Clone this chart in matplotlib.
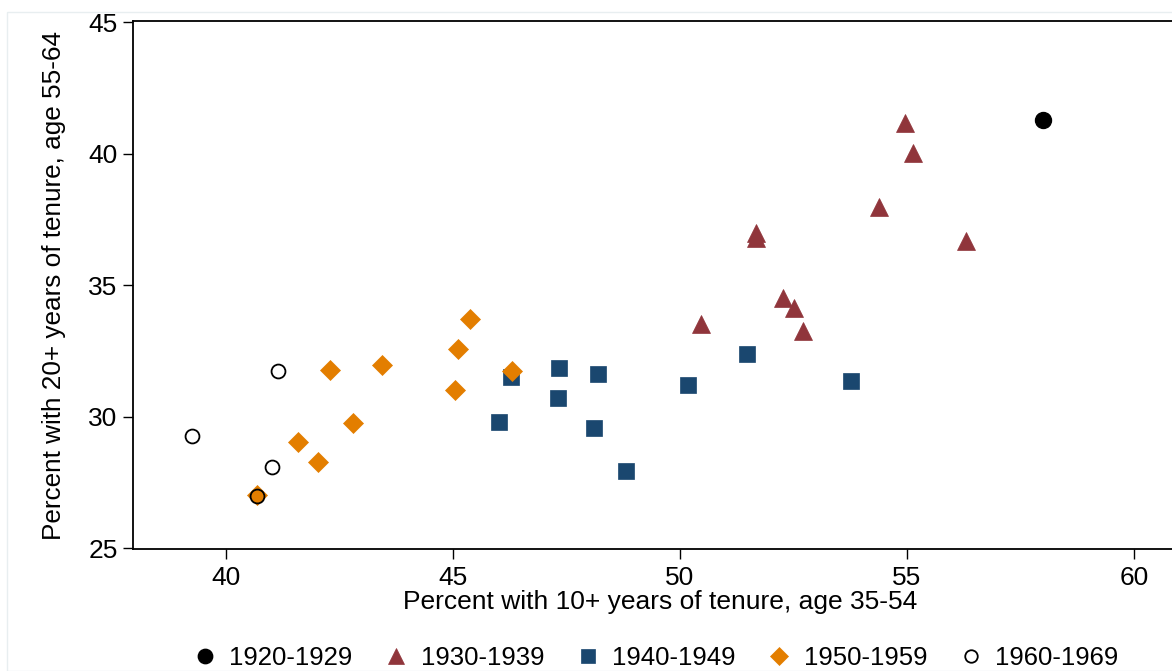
import matplotlib
matplotlib.use('Agg')
import matplotlib.pyplot as plt
from matplotlib.patches import Rectangle

plt.rcParams['font.family'] = ['Liberation Sans', 'DejaVu Sans']

# cohort data: (10+ yrs tenure age 35-54, 20+ yrs tenure age 55-64)
x_1920 = [58.0]
y_1920 = [41.28]

x_1930 = [54.96, 55.14, 54.39, 56.31, 51.68, 51.68, 52.27, 52.52, 52.72, 50.47]
y_1930 = [41.17, 40.02, 37.96, 36.67, 36.97, 36.78, 34.50, 34.12, 33.25, 33.52]

x_1940 = [46.28, 47.34, 48.20, 47.32, 46.02, 48.11, 48.82, 50.18, 51.48, 53.77]
y_1940 = [31.51, 31.84, 31.63, 30.71, 29.80, 29.58, 27.95, 31.21, 32.38, 31.36]

x_1950 = [45.37, 45.12, 46.30, 45.04, 43.45, 42.30, 42.81, 41.59, 42.04, 40.68]
y_1950 = [33.70, 32.56, 31.74, 31.02, 31.98, 31.78, 29.75, 29.05, 28.28, 27.02]

x_1960 = [41.15, 39.25, 41.03, 40.68]
y_1960 = [31.75, 29.27, 28.10, 27.00]

x_ticks = [40, 45, 50, 55, 60]
y_ticks = [25, 30, 35, 40, 45]

W, H = 1172, 671
fs = 19
fig = plt.figure(figsize=(W / 100, H / 100), dpi=100)
fig.patches.append(Rectangle((7 / W, 0), 1, 1 - 12 / H, transform=fig.transFigure,
                             fill=False, edgecolor='#e8eef0', linewidth=1.0))

left, right, top, bottom = 133, 1172, 21, 549
ax = fig.add_axes([left / W, 1 - bottom / H, (right - left) / W, (bottom - top) / H])

ax.plot(x_1920, y_1920, 'o', ms=11.5, color='black', mec='black', label='1920-1929')
ax.plot(x_1930, y_1930, '^', ms=13, color='#90353B', mec='#90353B', mew=0.5, label='1930-1939')
ax.plot(x_1940, y_1940, 's', ms=11.5, color='#1A476F', mec='#1A476F', mew=0.5, label='1940-1949')
ax.plot(x_1950, y_1950, 'D', ms=10.5, color='#E37E00', mec='#E37E00', mew=0.5, label='1950-1959')
ax.plot(x_1960, y_1960, 'o', ms=10, mfc='none', mec='black', mew=1.3, label='1960-1969')

ax.set_xlim(37.958, 60.84)
ax.set_ylim(24.97, 45.05)
ax.set_xticks(x_ticks)
ax.set_yticks(y_ticks)
ax.spines['right'].set_visible(False)
for s in ['left', 'bottom', 'top']:
    ax.spines[s].set_linewidth(1.3)
ax.tick_params(axis='both', labelsize=fs, length=7, width=1.0, direction='out')
ax.tick_params(axis='x', pad=5)
ax.tick_params(axis='y', pad=4)
ax.tick_params(axis='x', top=False)

ax.set_xlabel('Percent with 10+ years of tenure, age 35-54', fontsize=19, labelpad=0)
ax.xaxis.label.set_x(0.5 + 8 / (right - left))
ax.set_ylabel('Percent with 20+ years of tenure, age 55-64', fontsize=18.8, labelpad=16)

fig.legend(loc='center', bbox_to_anchor=(654 / W, 1 - 658 / H), ncol=5, frameon=False,
           fontsize=18.5, handletextpad=0.35, columnspacing=1.1, markerscale=0.9,
           handlelength=1.2)

fig.savefig('out.png', dpi=100)
